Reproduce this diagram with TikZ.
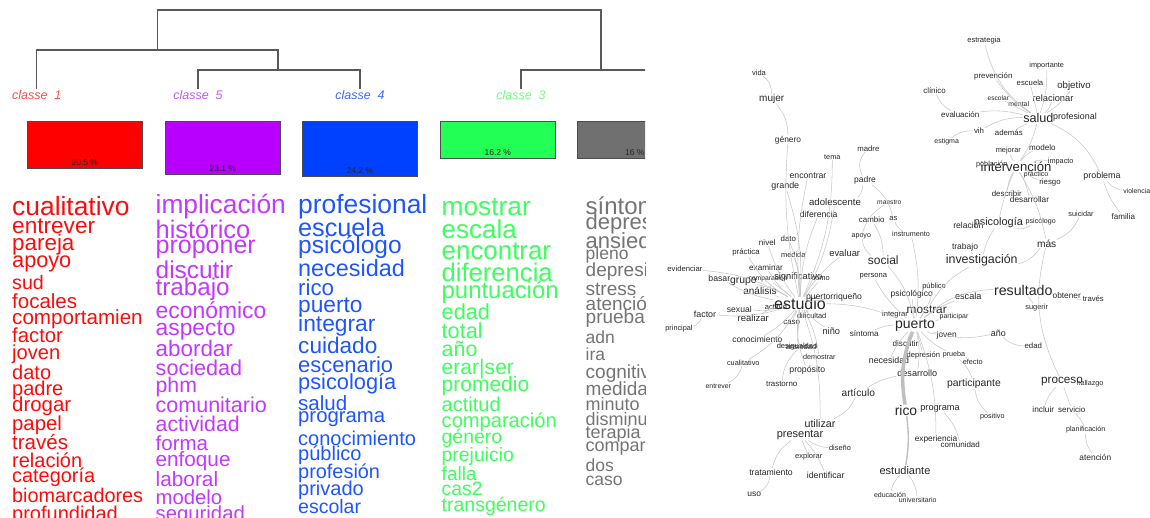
\documentclass[tikz,border=0pt]{standalone}
\usepackage{fontspec}
\setmainfont{Liberation Sans}
\usetikzlibrary{positioning}

\definecolor{boxred}{HTML}{FF0000}
\definecolor{boxmag}{HTML}{B800FF}
\definecolor{boxblue}{HTML}{0040FF}
\definecolor{boxgreen}{HTML}{22FF55}
\definecolor{boxgrey}{HTML}{707070}
\definecolor{txtred}{HTML}{FF0A0A}
\definecolor{txtmag}{HTML}{C238FF}
\definecolor{txtblue}{HTML}{1F55FF}
\definecolor{txtgreen}{HTML}{3DFF5E}
\definecolor{txtgrey}{HTML}{747474}
\definecolor{lblred}{HTML}{FF4A4A}
\definecolor{lblmag}{HTML}{C455FF}
\definecolor{lblblue}{HTML}{3A6BFF}
\definecolor{lblgreen}{HTML}{70FF80}

\tikzset{
  cw/.style={anchor=base west, inner sep=0pt, font=\fontsize{#1}{#1}\selectfont},
  term/.style={inner sep=0.6pt, text=black!85, font=\fontsize{#1}{#1}\selectfont},
  link/.style={draw=black!22, line width=0.55pt},
  dendro/.style={draw=black!65, line width=1.1pt},
  clsbox/.style={draw=black!70, line width=0.6pt, anchor=north west, minimum width=115, inner sep=0pt},
  clslbl/.style={anchor=base, inner sep=1pt, font=\fontsize{12.5}{12.5}\selectfont\itshape},
  pct/.style={inner sep=0.5pt, text=black!85, font=\fontsize{8.5}{8.5}\selectfont},
}

\begin{document}
\begin{tikzpicture}[x=1pt, y=-1pt]
    \useasboundingbox (0,0) rectangle (1150,518);

    \begin{scope}
    \clip (0,0) rectangle (645,518);
    % Class labels
    \node[clslbl, text=lblred] (lbl1) at (36.7,99.5) {classe\ \ 1};
    \node[clslbl, text=lblmag] (lbl5) at (198,99.5) {classe\ \ 5};
    \node[clslbl, text=lblblue] (lbl4) at (360,99.5) {classe\ \ 4};
    \node[clslbl, text=lblgreen] (lbl3) at (521,99.5) {classe\ \ 3};

    % Dendrogram
    \coordinate (j54) at (278,70);
    \coordinate (j154) at (157.5,50);
    \coordinate (jtop) at (379,10);
    \coordinate (j32) at (601,70);
    \coordinate (leaf2) at (681,70);
    \draw[dendro] (lbl5.north) |- (j54) -| (lbl4.north);
    \draw[dendro] (j54) -- (j54 |- j154) -| (lbl1.north);
    \draw[dendro] (j154) |- (jtop) -| (j32);
    \draw[dendro] (lbl3.north) |- (j32) -- (leaf2);

    % Boxes
    \node[clsbox, fill=boxred, minimum height=47] (box1) at (27,121) {};
    \node[clsbox, fill=boxmag, minimum height=53] (box5) at (165,121) {};
    \node[clsbox, fill=boxblue, minimum height=55] (box4) at (302,121) {};
    \node[clsbox, fill=boxgreen, minimum height=37] (box3) at (440,121) {};
    \node[clsbox, fill=boxgrey, minimum height=37] (box2) at (577,121) {};
    \node[pct, above=2.5pt of box1.south] (pct1) {20.5 \%};
    \node[pct, above=2.5pt of box5.south] (pct5) {23.1 \%};
    \node[pct, above=2.5pt of box4.south] (pct4) {24.2 \%};
    \node[pct, above=2.5pt of box3.south] (pct3) {16.2 \%};
    \node[pct, above=2.5pt of box2.south] (pct2) {16 \%};

    % Words of classe 1
    \begin{scope}[every node/.append style={text=txtred}]
    \node[cw=26.4] (c1-cualitativo) at (12,215.7) {cualitativo};
    \node[cw=22.6] (c1-entrever) at (12,234) {entrever};
    \node[cw=22.4] (c1-pareja) at (12,251) {pareja};
    \node[cw=21.7] (c1-apoyo) at (12,267.3) {apoyo};
    \node[cw=19.6] (c1-sud) at (12,290) {sud};
    \node[cw=20.5] (c1-focales) at (12,308.3) {focales};
    \node[cw=20.6] (c1-comportamien) at (12,324) {comportamien};
    \node[cw=20.3] (c1-factor) at (12,342.7) {factor};
    \node[cw=20.1] (c1-joven) at (12,359.3) {joven};
    \node[cw=20] (c1-dato) at (12,379) {dato};
    \node[cw=20] (c1-padre) at (12,395) {padre};
    \node[cw=20.4] (c1-drogar) at (12,411.7) {drogar};
    \node[cw=20.3] (c1-papel) at (12,430.7) {papel};
    \node[cw=20.5] (c1-traves) at (12,449.3) {través};
    \node[cw=20] (c1-relacion) at (12,467.3) {relación};
    \node[cw=19.9] (c1-categoria) at (12,482.7) {categoría};
    \node[cw=19.8] (c1-biomarcadores) at (12,502.7) {biomarcadores};
    \node[cw=20] (c1-profundidad) at (12,520) {profundidad};
    \end{scope}

    % Words of classe 5
    \begin{scope}[every node/.append style={text=txtmag}]
    \node[cw=26.3] (c5-implicacion) at (155.5,213.3) {implicación};
    \node[cw=25.4] (c5-historico) at (155.5,238.3) {histórico};
    \node[cw=25] (c5-proponer) at (155.5,253.3) {proponer};
    \node[cw=24.4] (c5-discutir) at (155.5,278.3) {discutir};
    \node[cw=24.2] (c5-trabajo) at (155.5,295) {trabajo};
    \node[cw=22.9] (c5-economico) at (155.5,318.3) {económico};
    \node[cw=22.8] (c5-aspecto) at (155.5,335) {aspecto};
    \node[cw=22.4] (c5-abordar) at (155.5,356.7) {abordar};
    \node[cw=21.6] (c5-sociedad) at (155.5,375) {sociedad};
    \node[cw=21.2] (c5-phm) at (155.5,392.3) {phm};
    \node[cw=21.5] (c5-comunitario) at (155.5,412.3) {comunitario};
    \node[cw=21.3] (c5-actividad) at (155.5,431.7) {actividad};
    \node[cw=20.5] (c5-forma) at (155.5,450) {forma};
    \node[cw=20.7] (c5-enfoque) at (155.5,466) {enfoque};
    \node[cw=20.8] (c5-laboral) at (155.5,486) {laboral};
    \node[cw=20.3] (c5-modelo) at (155.5,504) {modelo};
    \node[cw=20.3] (c5-seguridad) at (155.5,520) {seguridad};
    \end{scope}

    % Words of classe 4
    \begin{scope}[every node/.append style={text=txtblue}]
    \node[cw=26.4] (c4-profesional) at (298,213.3) {profesional};
    \node[cw=25.2] (c4-escuela) at (298,236.7) {escuela};
    \node[cw=24.5] (c4-psicologo) at (298,253.3) {psicólogo};
    \node[cw=23.4] (c4-necesidad) at (298,276.7) {necesidad};
    \node[cw=22.3] (c4-rico) at (298,295) {rico};
    \node[cw=22.7] (c4-puerto) at (298,312.7) {puerto};
    \node[cw=22.8] (c4-integrar) at (298,331.7) {integrar};
    \node[cw=22.6] (c4-cuidado) at (298,353.3) {cuidado};
    \node[cw=21.9] (c4-escenario) at (298,372.7) {escenario};
    \node[cw=21.8] (c4-psicologia) at (298,389.3) {psicología};
    \node[cw=20.5] (c4-salud) at (298,410) {salud};
    \node[cw=20.3] (c4-programa) at (298,422.7) {programa};
    \node[cw=20] (c4-conocimiento) at (298,445) {conocimiento};
    \node[cw=20] (c4-publico) at (298,460) {público};
    \node[cw=19.9] (c4-profesion) at (298,478.3) {profesión};
    \node[cw=20] (c4-privado) at (298,495) {privado};
    \node[cw=19.5] (c4-escolar) at (298,513.3) {escolar};
    \end{scope}

    % Words of classe 3
    \begin{scope}[every node/.append style={text=txtgreen}]
    \node[cw=26.3] (c3-mostrar) at (441.5,216) {mostrar};
    \node[cw=26] (c3-escala) at (441.5,238.3) {escala};
    \node[cw=25.9] (c3-encontrar) at (441.5,260) {encontrar};
    \node[cw=25.6] (c3-diferencia) at (441.5,281.7) {diferencia};
    \node[cw=23.9] (c3-puntuacion) at (441.5,298.3) {puntuación};
    \node[cw=21.7] (c3-edad) at (441.5,319.3) {edad};
    \node[cw=21.7] (c3-total) at (441.5,338.3) {total};
    \node[cw=21.4] (c3-ano) at (441.5,356.7) {año};
    \node[cw=21.1] (c3-erarser) at (441.5,374) {erar|ser};
    \node[cw=21] (c3-promedio) at (441.5,391.7) {promedio};
    \node[cw=20] (c3-actitud) at (441.5,411.7) {actitud};
    \node[cw=20.1] (c3-comparacion) at (441.5,427.3) {comparación};
    \node[cw=19.4] (c3-genero) at (441.5,443.3) {género};
    \node[cw=19.4] (c3-prejuicio) at (441.5,461.7) {prejuicio};
    \node[cw=19.1] (c3-falla) at (441.5,480) {falla};
    \node[cw=19.4] (c3-cas2) at (441.5,495) {cas2};
    \node[cw=19.5] (c3-transgenero) at (441.5,511.7) {transgénero};
    \end{scope}

    % Words of classe 2 (cut by the frame)
    \begin{scope}[every node/.append style={text=txtgrey}]
    \node[cw=24] (c2-sintoma) at (585.5,215) {síntoma};
    \node[cw=22] (c2-depresivo) at (585.5,230) {depresivo};
    \node[cw=22] (c2-ansiedad) at (585.5,248.3) {ansiedad};
    \node[cw=17.5] (c2-pleno) at (585.5,260) {pleno};
    \node[cw=19] (c2-depresion) at (585.5,276.7) {depresión};
    \node[cw=19] (c2-stress) at (585.5,295) {stress};
    \node[cw=19] (c2-atencion) at (585.5,310) {atención};
    \node[cw=19] (c2-prueba) at (585.5,323.3) {prueba};
    \node[cw=17.5] (c2-adn) at (585.5,343.3) {adn};
    \node[cw=17.5] (c2-ira) at (585.5,360) {ira};
    \node[cw=19] (c2-cognitivo) at (585.5,378.3) {cognitivo};
    \node[cw=19] (c2-medida) at (585.5,395) {medida};
    \node[cw=18] (c2-minuto) at (585.5,410) {minuto};
    \node[cw=18] (c2-disminuir) at (585.5,425) {disminuir};
    \node[cw=18] (c2-terapia) at (585.5,438.3) {terapia};
    \node[cw=18] (c2-comparacion) at (585.5,451.7) {comparación};
    \node[cw=17.5] (c2-dos) at (585.5,471.7) {dos};
    \node[cw=17.5] (c2-caso) at (585.5,485) {caso};
    \end{scope}
    \end{scope}

    % Graph nodes: estudio side
    \node[term=7.5] (vida) at (759,72.7) {vida};
    \node[term=10] (mujer) at (771.7,99) {mujer};
    \node[term=8.4] (genero) at (788,140) {género};
    \node[term=7.3] (tema) at (832.3,156.7) {tema};
    \node[term=7.8] (madre) at (868.3,148.3) {madre};
    \node[term=8.7] (encontrar) at (808,175.3) {encontrar};
    \node[term=8.5] (padre) at (865,180.3) {padre};
    \node[term=8.9] (grande) at (785.3,186) {grande};
    \node[term=9.6] (adolescente) at (835,202) {adolescente};
    \node[term=6.7] (maestro) at (889.3,202) {maestro};
    \node[term=8.7] (diferencia) at (818.7,214.3) {diferencia};
    \node[term=7.9] (cambio) at (871.7,220) {cambio};
    \node[term=7.6] (as) at (893.3,218.5) {as};
    \node[term=7.2] (instrumento) at (911,234.3) {instrumento};
    \node[term=7.1] (apoyo) at (861.3,236) {apoyo};
    \node[term=7.9] (dato) at (788.3,238.3) {dato};
    \node[term=8.1] (nivel) at (767.3,242.3) {nivel};
    \node[term=7.8] (practica) at (746,252.7) {práctica};
    \node[term=7.4] (medida) at (793.3,254.7) {medida};
    \node[term=9.4] (evaluar) at (844.7,253) {evaluar};
    \node[term=12] (social) at (883.3,260.7) {social};
    \node[term=7.7] (evidenciar) at (685,269) {evidenciar};
    \node[term=8.2] (examinar) at (766,267.3) {examinar};
    \node[term=7.6] (persona) at (873.3,276.7) {persona};
    \node[term=8.7] (basar) at (719.3,278) {basar};
    \node[term=10.4] (grupo) at (743.3,281.3) {grupo};
    \node[term=6.8] (comparacion) at (768,278.7) {comparación};
    \node[term=9.3] (significativo) at (798.3,277) {significativo};
    \node[term=7.5] (como) at (820.7,279) {como};
    \node[term=10] (analisis) at (760,291) {análisis};
    \node[term=8.6] (puertorriqueno) at (834,297.7) {puertorriqueño};
    \node[term=7.5] (actitud) at (776,307) {actitud};
    \node[term=16] (estudio) at (800,303.3) {estudio};
    \node[term=8.6] (sexual) at (739.3,309.3) {sexual};
    \node[term=8.9] (factor) at (705,314.3) {factor};
    \node[term=9.5] (realizar) at (753.3,317.7) {realizar};
    \node[term=7.4] (dificultad) at (811.7,315.7) {dificultad};
    \node[term=7.3] (principal) at (679,328.3) {principal};
    \node[term=7.9] (caso) at (791.7,322.3) {caso};
    \node[term=9.2] (nino) at (831.3,331) {niño};
    \node[term=8.1] (sintoma) at (864.3,333.7) {síntoma};
    \node[term=8.5] (conocimiento) at (757.3,339.5) {conocimiento};
    \node[term=7.5] (desigualdad) at (797,346.5) {desigualdad};
    \node[term=7.5] (ansiedad) at (801,346.5) {ansiedad};
    \node[term=7.2] (demostrar) at (819.3,357.3) {demostrar};
    \node[term=7.3] (cualitativo) at (743.3,362.7) {cualitativo};
    \node[term=8.7] (proposito) at (807.3,370) {propósito};
    \node[term=6.9] (entrever) at (718.3,386) {entrever};
    \node[term=7.9] (trastorno) at (781.7,384.3) {trastorno};
    \node[term=10.2] (articulo) at (858.3,392.7) {artículo};
    \node[term=10.7] (utilizar) at (820,423.3) {utilizar};
    \node[term=11] (presentar) at (800,435) {presentar};
    \node[term=7.4] (diseno) at (840,448.3) {diseño};
    \node[term=7.5] (explorar) at (808.7,457) {explorar};
    \node[term=8.7] (tratamiento) at (771,472) {tratamiento};
    \node[term=8.8] (identificar) at (825.7,475) {identificar};
    \node[term=8.5] (uso) at (754.3,494.7) {uso};

    % Graph nodes: puerto side
    \node[term=8.5] (psicologico) at (911.7,294.5) {psicológico};
    \node[term=7.4] (publico) at (934,286.7) {público};
    \node[term=7.6] (integrar) at (895,315) {integrar};
    \node[term=11.8] (mostrar) at (926.7,310) {mostrar};
    \node[term=14] (puerto) at (915,325) {puerto};
    \node[term=8.1] (discutir) at (905.5,343.3) {discutir};
    \node[term=7.6] (depresion) at (923.3,355) {depresión};
    \node[term=7.2] (prueba) at (954,355) {prueba};
    \node[term=7.3] (efecto) at (972.7,362.3) {efecto};
    \node[term=8.8] (necesidad) at (889,360.7) {necesidad};
    \node[term=9.1] (desarrollo) at (917.3,373) {desarrollo};
    \node[term=13.9] (rico) at (906,410.5) {rico};
    \node[term=9.2] (programa) at (940,408.7) {programa};
    \node[term=8.3] (experiencia) at (936,439.3) {experiencia};
    \node[term=8] (comunidad) at (960.3,444.7) {comunidad};
    \node[term=11] (estudiante) at (905,470.3) {estudiante};
    \node[term=7] (educacion) at (890,494.5) {educación};
    \node[term=7] (universitario) at (917.7,500.3) {universitario};
    \node[term=10.4] (participante) at (974,383.7) {participante};
    \node[term=7.2] (positivo) at (992.3,417) {positivo};
    \node[term=8.4] (joven) at (946.7,335.7) {joven};
    \node[term=9] (ano) at (998.3,333.3) {año};
    \node[term=7.8] (edad) at (1033.3,346) {edad};
    \node[term=7] (participar) at (954,316.7) {participar};
    \node[term=9.2] (escala) at (968.3,296.7) {escala};
    \node[term=14.2] (resultado) at (1023.3,290.7) {resultado};
    \node[term=8.3] (obtener) at (1066.7,295.7) {obtener};
    \node[term=7.7] (traves) at (1093.3,298.3) {través};
    \node[term=7.4] (sugerir) at (1036.7,307.7) {sugerir};
    \node[term=11.7] (proceso) at (1062,382) {proceso};
    \node[term=7.2] (hallazgo) at (1090,384) {hallazgo};
    \node[term=8.3] (incluir) at (1043.3,410) {incluir};
    \node[term=8] (servicio) at (1071.7,409.7) {servicio};
    \node[term=7.1] (planificacion) at (1085.7,429.7) {planificación};
    \node[term=8.4] (atencion) at (1095.3,457) {atención};
    \node[term=12.4] (investigacion) at (981.7,260.7) {investigación};
    \node[term=8.5] (trabajo) at (965,247.7) {trabajo};
    \node[term=8.6] (relacion) at (968.3,225.7) {relación};
    \node[term=10.9] (psicologia) at (998.3,222.7) {psicología};
    \node[term=7.1] (psicologo) at (1040.7,221.3) {psicólogo};
    \node[term=10.2] (mas) at (1046.7,243.3) {más};
    \node[term=7.3] (suicidar) at (1081,214.3) {suicidar};
    \node[term=8.1] (familia) at (1123.3,216.7) {familia};

    % Graph nodes: salud side
    \node[term=8.9] (problema) at (1102,176.7) {problema};
    \node[term=6.9] (violencia) at (1136.7,190.7) {violencia};
    \node[term=7.3] (poblacion) at (991.7,165) {población};
    \node[term=13.1] (intervencion) at (1016,166.7) {intervención};
    \node[term=7.4] (mejorar) at (1008.3,150.7) {mejorar};
    \node[term=8.1] (modelo) at (1042.3,147.3) {modelo};
    \node[term=7.3] (impacto) at (1060.7,161.3) {impacto};
    \node[term=7.1] (practico) at (1036,174.3) {práctico};
    \node[term=7.8] (riesgo) at (1050,182.7) {riesgo};
    \node[term=7.9] (describir) at (1006.7,194) {describir};
    \node[term=8.3] (desarrollar) at (1029.5,199.3) {desarrollar};
    \node[term=12.6] (salud) at (1038.3,118.3) {salud};
    \node[term=7.6] (estrategia) at (984,41) {estrategia};
    \node[term=7.3] (importante) at (1046.7,66) {importante};
    \node[term=7.8] (prevencion) at (993.3,76) {prevención};
    \node[term=7.7] (escuela) at (1030,82.7) {escuela};
    \node[term=9.7] (objetivo) at (1074,86) {objetivo};
    \node[term=7.9] (clinico) at (934.5,90.7) {clínico};
    \node[term=6.6] (escolar) at (998.3,97.7) {escolar};
    \node[term=6.9] (mental) at (1018.7,104) {mental};
    \node[term=9.3] (relacionar) at (1053,97.7) {relacionar};
    \node[term=8] (evaluacion) at (960.2,114.3) {evaluación};
    \node[term=8.9] (profesional) at (1075,117.3) {profesional};
    \node[term=7.8] (vih) at (979,131) {vih};
    \node[term=7.8] (ademas) at (1008.8,132.7) {además};
    \node[term=7] (estigma) at (946.7,141.7) {estigma};

    % Connections: estudio
    \draw[link] (vida) to[bend left=25] (mujer);
    \draw[link] (mujer) to[bend left=20] (genero);
    \draw[link] (genero) to[bend right=8] (estudio);
    \draw[link] (grande) to[bend left=10] (estudio);
    \draw[link] (encontrar) to[bend right=8] (estudio);
    \draw[link] (tema) to[bend left=12] (estudio);
    \draw[link] (madre) to[bend right=35] (padre);
    \draw[link] (padre) to[bend left=25] (adolescente);
    \draw[link] (padre) to[bend left=20] (as);
    \draw[link] (adolescente) to[bend left=10] (estudio);
    \draw[link] (diferencia) to[bend right=10] (estudio);
    \draw[link] (maestro) to[bend right=20] (apoyo);
    \draw[link] (apoyo) to[bend right=25] (social);
    \draw[link] (cambio) to[bend left=15] (social);
    \draw[link] (as) to[bend right=20] (instrumento);
    \draw[link] (instrumento) to[bend left=10] (puerto);
    \draw[link] (dato) to[bend left=10] (estudio);
    \draw[link] (nivel) to[bend right=10] (estudio);
    \draw[link] (practica) to[bend right=15] (estudio);
    \draw[link] (medida) to[bend left=10] (estudio);
    \draw[link] (examinar) to[bend right=10] (estudio);
    \draw[link] (evidenciar) to[bend left=12] (estudio);
    \draw[link] (basar) to[bend right=10] (estudio);
    \draw[link] (grupo) to[bend left=8] (estudio);
    \draw[link] (comparacion) -- (estudio);
    \draw[link] (significativo) -- (estudio);
    \draw[link] (como) -- (estudio);
    \draw[link] (analisis) -- (estudio);
    \draw[link] (sexual) to[bend right=8] (estudio);
    \draw[link] (factor) to[bend right=10] (estudio);
    \draw[link] (principal) to[bend right=20] (factor);
    \draw[link] (realizar) to[bend left=8] (estudio);
    \draw[link] (dificultad) -- (estudio);
    \draw[link] (caso) -- (estudio);
    \draw[link] (nino) to[bend left=10] (estudio);
    \draw[link] (conocimiento) to[bend right=10] (estudio);
    \draw[link] (desigualdad) -- (estudio);
    \draw[link] (ansiedad) to[bend right=20] (trastorno);
    \draw[link] (cualitativo) to[bend right=15] (estudio);
    \draw[link] (entrever) to[bend right=25] (cualitativo);
    \draw[link] (proposito) to[bend left=15] (estudio);
    \draw[link] (demostrar) to[bend right=10] (estudio);
    \draw[link] (estudio) to[bend left=10] (utilizar);
    \draw[link] (utilizar) -- (presentar);
    \draw[link] (utilizar) to[bend right=20] (articulo);
    \draw[link] (articulo) to[bend left=10] (desarrollo);
    \draw[link] (presentar) to[bend right=20] (tratamiento);
    \draw[link] (tratamiento) to[bend left=25] (uso);
    \draw[link] (presentar) -- (explorar);
    \draw[link] (presentar) to[bend left=10] (identificar);
    \draw[link] (presentar) to[bend right=15] (diseno);
    \draw[link] (estudio) to[bend left=10] (evaluar);
    \draw[link] (estudio) -- (puertorriqueno);
    \draw[link] (estudio) to[bend left=10] (puerto);
    \draw[link] (social) to[bend left=15] (puerto);
    \draw[link] (persona) to[bend right=10] (puerto);
    \draw[link] (sintoma) to[bend left=10] (puerto);

    % Connections: puerto
    \draw[draw=black!25, line width=3.5pt] (puerto) to[bend right=15] (rico);
    \draw[draw=black!25, line width=1.4pt] (rico) to[bend left=8] (estudiante);
    \draw[link] (estudiante) to[bend right=15] (educacion);
    \draw[link] (estudiante) to[bend left=15] (universitario);
    \draw[link] (puerto) -- (mostrar);
    \draw[link] (puerto) -- (integrar);
    \draw[link] (puerto) -- (psicologico);
    \draw[link] (puerto) to[bend right=10] (publico);
    \draw[link] (puerto) -- (discutir);
    \draw[link] (puerto) -- (depresion);
    \draw[link] (puerto) to[bend right=10] (necesidad);
    \draw[link] (puerto) to[bend right=10] (joven);
    \draw[link] (puerto) -- (participar);
    \draw[link] (puerto) to[bend left=10] (escala);
    \draw[link] (puerto) to[bend left=20] (resultado);
    \draw[link] (puerto) to[bend right=15] (ano);
    \draw[link] (puerto) to[bend right=10] (prueba);
    \draw[link] (puerto) to[bend left=10] (desarrollo);
    \draw[link] (puerto) to[bend left=10] (experiencia);
    \draw[link] (prueba) to[bend left=10] (efecto);
    \draw[link] (prueba) to[bend left=15] (participante);
    \draw[link] (participante) to[bend right=20] (positivo);
    \draw[link] (rico) -- (programa);
    \draw[link] (programa) to[bend left=15] (comunidad);
    \draw[link] (mostrar) to[bend left=15] (investigacion);
    \draw[link] (investigacion) -- (trabajo);
    \draw[link] (investigacion) to[bend left=10] (psicologia);
    \draw[link] (psicologia) -- (relacion);
    \draw[link] (psicologia) to[bend right=20] (psicologo);
    \draw[link] (psicologia) to[bend left=5] (intervencion);
    \draw[link] (investigacion) to[bend right=20] (mas);
    \draw[link] (intervencion) to[bend left=10] (mas);
    \draw[link] (mas) to[bend right=20] (suicidar);
    \draw[link] (mas) to[bend right=20] (proceso);
    \draw[link] (resultado) -- (obtener);
    \draw[link] (obtener) to[bend right=15] (traves);
    \draw[link] (resultado) -- (sugerir);
    \draw[link] (ano) to[bend right=20] (edad);
    \draw[link] (proceso) -- (hallazgo);
    \draw[link] (proceso) to[bend right=15] (incluir);
    \draw[link] (proceso) -- (servicio);
    \draw[link] (servicio) to[bend left=10] (planificacion);
    \draw[link] (planificacion) to[bend right=20] (atencion);

    % Connections: salud
    \draw[link] (salud) to[bend left=20] (estrategia);
    \draw[link] (salud) to[bend left=10] (prevencion);
    \draw[link] (salud) to[bend right=10] (importante);
    \draw[link] (salud) -- (escuela);
    \draw[link] (salud) to[bend right=10] (objetivo);
    \draw[link] (salud) -- (escolar);
    \draw[link] (salud) -- (mental);
    \draw[link] (salud) to[bend right=15] (relacionar);
    \draw[link] (salud) -- (profesional);
    \draw[link] (salud) to[bend right=10] (evaluacion);
    \draw[link] (evaluacion) to[bend left=20] (clinico);
    \draw[link] (salud) to[bend right=15] (vih);
    \draw[link] (vih) to[bend right=20] (estigma);
    \draw[link] (salud) -- (ademas);
    \draw[link] (salud) to[bend left=10] (intervencion);
    \draw[link] (salud) to[bend left=20] (problema);
    \draw[link] (problema) to[bend right=20] (violencia);
    \draw[link] (problema) to[bend right=10] (familia);
    \draw[link] (intervencion) -- (poblacion);
    \draw[link] (intervencion) -- (mejorar);
    \draw[link] (intervencion) to[bend left=15] (modelo);
    \draw[link] (intervencion) to[bend left=10] (impacto);
    \draw[link] (intervencion) -- (practico);
    \draw[link] (intervencion) to[bend right=10] (riesgo);
    \draw[link] (intervencion) to[bend right=10] (describir);
    \draw[link] (intervencion) to[bend left=10] (desarrollar);
\end{tikzpicture}
\end{document}
